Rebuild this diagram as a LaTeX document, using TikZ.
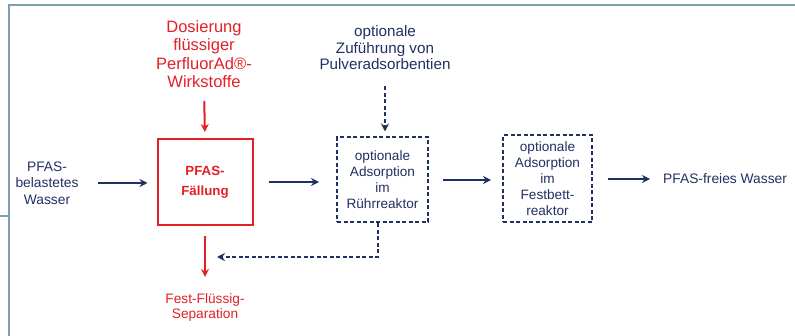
\documentclass[tikz,border=0pt]{standalone}
\usepackage{fontspec}
\setmainfont{Liberation Sans}
\usepackage{xcolor}
\usepackage{tikz}
\usetikzlibrary{arrows.meta,positioning,calc}
\definecolor{navy}{RGB}{33,48,98}
\definecolor{pfred}{RGB}{226,32,38}
\definecolor{framecol}{RGB}{128,158,178}

\begin{document}
\begin{tikzpicture}[x=1pt,y=-1pt,
  txt/.style={align=center,inner sep=0pt,text=navy,font=\fontsize{13.8}{16.5}\selectfont},
  redtxt/.style={align=center,inner sep=0pt,text=pfred},
  proc/.style={rectangle,draw=pfred,line width=2pt,minimum width=95pt,minimum height=86pt,
    text=pfred,align=center,font=\bfseries\fontsize{13.3}{20}\selectfont},
  opt/.style={rectangle,draw=navy,line width=2pt,dash pattern=on 4pt off 2.5pt,
    text=navy,align=center,inner sep=0pt,font=\fontsize{13.6}{16}\selectfont},
  arrow/.style={-{Stealth[length=8pt,width=8pt]},line width=2pt,navy},
  darrow/.style={arrow,dash pattern=on 4pt off 2.5pt},
  redarrow/.style={-{Stealth[length=8pt,width=8pt]},line width=2pt,pfred},
  >=Stealth
]
\useasboundingbox (0,0) rectangle (795,336);

% Frame
\draw[framecol,line width=1.6pt] (795,5) -| (9,336);
\draw[framecol,line width=1.6pt] (0,216) -- (9,216);

% Nodes
\node[redtxt,font=\fontsize{16.5}{18.5}\selectfont] (dos) at (204,54)
  {Dosierung\\flüssiger\\PerfluorAd®-\\Wirkstoffe};
\node[proc] (fall) at (205,182) {PFAS-\\Fällung};
\node[txt] (feed) at (47,183) {PFAS-\\belastetes\\Wasser};
\node[txt,font=\fontsize{15.2}{16.5}\selectfont] (pulv) at (385,48)
  {optionale\\Zuführung von\\Pulveradsorbentien};
\node[opt,minimum width=91pt,minimum height=85pt] (stir) at (382.5,180)
  {optionale\\Adsorption\\im\\Rührreaktor};
\node[opt,minimum width=89pt,minimum height=87pt] (bed) at (547.5,179)
  {optionale\\Adsorption\\im\\Festbett-\\reaktor};
\node[txt,anchor=west] (out) at (663,179) {PFAS-freies Wasser};
\node[redtxt,font=\fontsize{13.7}{15}\selectfont] (sep) at (205,307)
  {Fest-Flüssig-\\Separation};
\coordinate (back) at (217,257);

% Main line
\draw[arrow,shorten <=19pt,shorten >=9pt] (feed.east) -- (feed.east -| fall.west);
\draw[arrow,shorten <=15pt,shorten >=17pt] (fall.east) -- (fall.east -| stir.west);
\draw[arrow,shorten <=14pt,shorten >=11pt] (stir.east) -- (stir.east -| bed.west);
\draw[arrow,shorten <=15pt,shorten >=13pt] (bed.east) -- (out.west);

% Dosing and separation
\draw[redarrow,shorten <=13pt,shorten >=6pt] (dos.south) -- (fall.north);
\draw[redarrow,shorten <=10pt,shorten >=16pt] (fall.south) -- (sep.north);

% Optional powder feed and return
\draw[darrow,shorten <=16pt,shorten >=5pt] (pulv.south) -- (pulv.south |- stir.north);
\draw[darrow] ([xshift=-4.5pt]stir.south) |- (back);
\end{tikzpicture}
\end{document}
